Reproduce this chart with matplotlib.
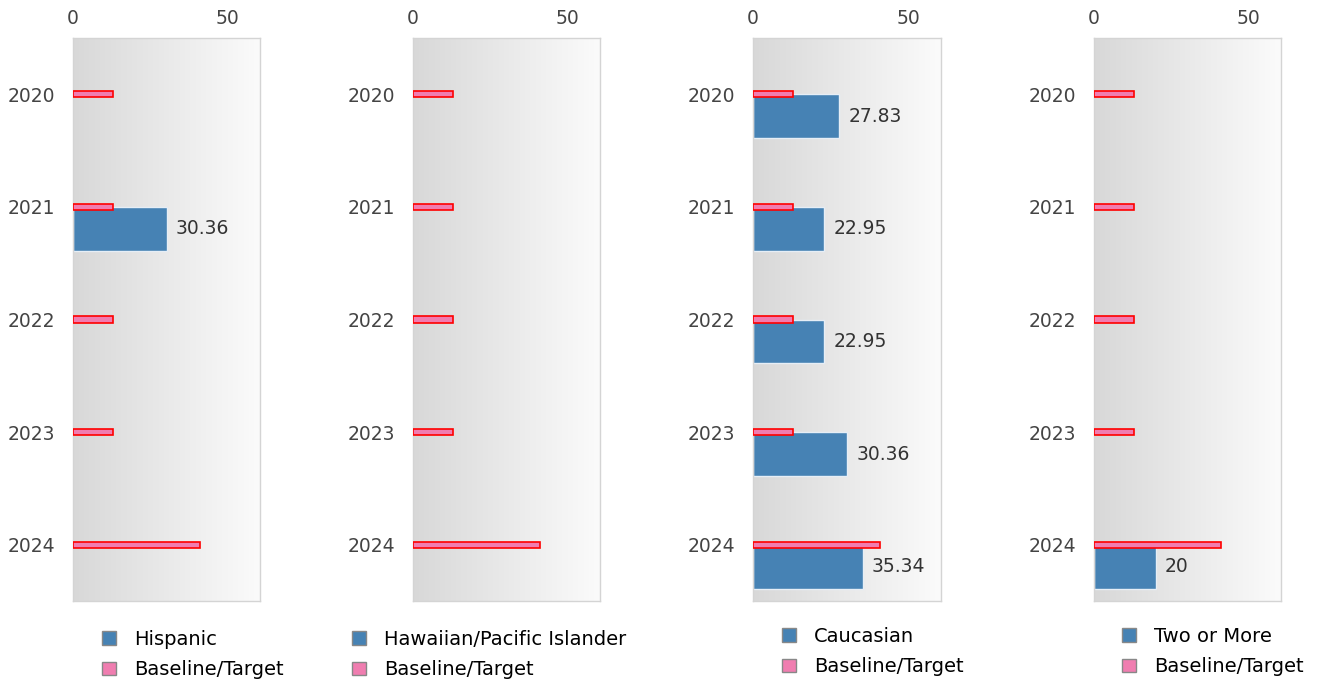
import numpy as np
import matplotlib.pyplot as plt
from matplotlib.patches import Patch
from matplotlib.colors import LinearSegmentedColormap

years = ["2020", "2021", "2022", "2023", "2024"]
baseline = [13, 13, 13, 13, 41]

groups = ["Hispanic", "Hawaiian/Pacific Islander", "Caucasian", "Two or More"]
hispanic = [None, 30.36, None, None, None]
hawaiian = [None, None, None, None, None]
caucasian = [27.83, 22.95, 22.95, 30.36, 35.34]
two_or_more = [None, None, None, None, 20]
series = [hispanic, hawaiian, caucasian, two_or_more]

BLUE = "#4682b4"
PINK = "#f07db0"
W, H = 1319, 682

# panel boxes in pixels: left, top, right, bottom
boxes = [(73, 38, 260, 601), (413, 38, 600, 601),
         (753, 38, 941, 601), (1094, 38, 1281, 601)]
# legend anchors (pixels, upper-left)
legend_at = [(102, 630), (352, 630), (782, 627), (1122, 627)]

plt.rcParams['font.family'] = ['DejaVu Sans']
fig = plt.figure(figsize=(W / 100, H / 100), dpi=100)

grad = np.linspace(0, 1, 256).reshape(1, -1)
bg = LinearSegmentedColormap.from_list("bg", ["#d8d8d8", "#fbfbfb"])

for k, (name, vals) in enumerate(zip(groups, series)):
    l, t, r, b = boxes[k]
    ax = fig.add_axes([l / W, 1 - b / H, (r - l) / W, (b - t) / H])

    # light grey horizontal gradient behind the bars
    ax.imshow(grad, extent=[0, 1, 0, 1], transform=ax.transAxes,
              aspect='auto', cmap=bg, zorder=0)

    ypos = np.arange(len(years))
    idx = [i for i, v in enumerate(vals) if v is not None]
    if idx:
        bars = ax.barh([ypos[i] for i in idx], [vals[i] for i in idx],
                       height=0.39, align='edge', color=BLUE,
                       edgecolor="#e6eef6", linewidth=1, zorder=2)
        ax.bar_label(bars, labels=[f"{vals[i]:g}" for i in idx], padding=6.5,
                     fontsize=13.5, color="#333333")
    ax.barh(ypos, baseline, height=0.055, color=PINK, edgecolor="#ff0000",
            linewidth=1.2, zorder=3)

    ax.set_xlim(0, 60.5)
    ax.set_ylim(4.5, -0.5)
    ax.set_xticks([0, 50])
    ax.set_yticks(ypos)
    ax.set_yticklabels(years)
    ax.xaxis.tick_top()
    ax.tick_params(axis='both', length=0, labelsize=13.5, labelcolor="#444444")
    ax.tick_params(axis='x', pad=7)
    ax.tick_params(axis='y', pad=13)
    for sp in ax.spines.values():
        sp.set_color("#d4d4d4")
        sp.set_linewidth(1)

    handles = [Patch(facecolor=BLUE, edgecolor="#888888", label=name),
               Patch(facecolor=PINK, edgecolor="#888888", label="Baseline/Target")]
    lx, ly = legend_at[k]
    ax.legend(handles=handles, loc='upper left', bbox_to_anchor=(lx / W, 1 - ly / H),
              bbox_transform=fig.transFigure, frameon=False, fontsize=14,
              handlelength=0.72, handleheight=0.72, handletextpad=0.92,
              labelspacing=0.58, borderpad=0, borderaxespad=0)

fig.savefig("out.png", dpi=100)
